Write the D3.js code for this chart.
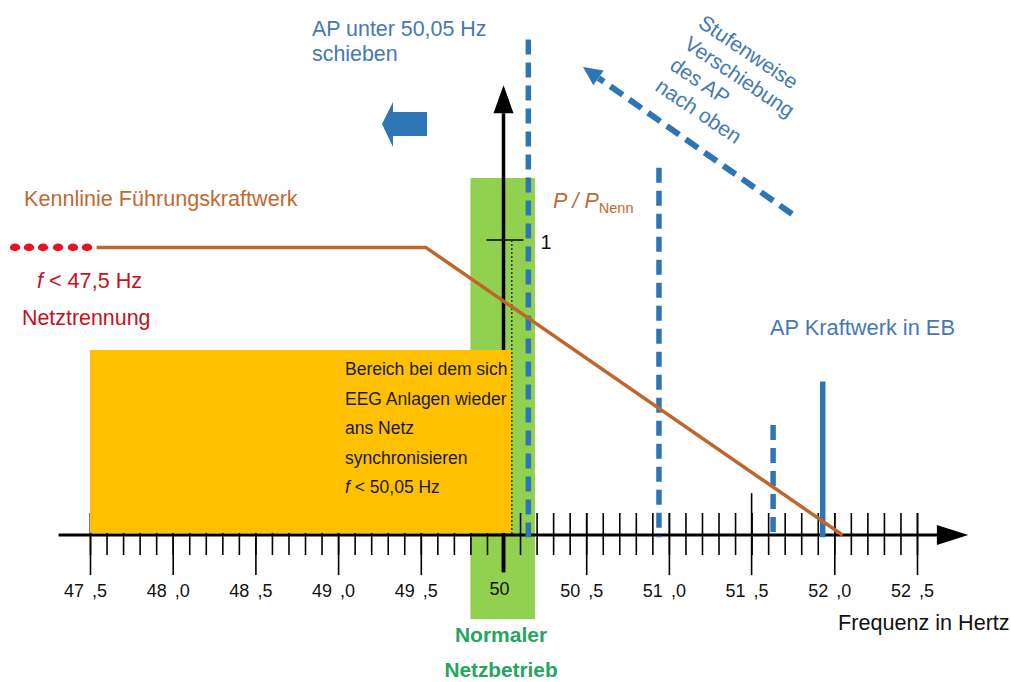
<!DOCTYPE html>
<html>
<head>
<meta charset="utf-8">
<script src="https://cdn.jsdelivr.net/npm/d3@7"></script>
<style>
  body { margin: 0; background: #fff; }
  svg { display: block; font-family: "Liberation Sans", Arial, sans-serif; }
</style>
</head>
<body>
<div id="chart"></div>
<script>
// ---- data ----
// major ticks on the frequency axis (Hz) and their labels
const majorTicks = [47.5, 48.0, 48.5, 49.0, 49.5, 50.0, 50.5, 51.0, 51.5, 52.0, 52.5];
const tickLabels = [["47", ",5"], ["48", ",0"], ["48", ",5"], ["49", ",0"], ["49", ",5"], ["50", ""],
                    ["50", ",5"], ["51", ",0"], ["51", ",5"], ["52", ",0"], ["52", ",5"]];
// Kennlinie Führungskraftwerk (frequency Hz, P/PNenn)
const kennF = [47.54, 49.53, 52.05];
const kennP = [0.975, 0.975, 0];
// red dotted part below 47,5 Hz
const trennF = [47.047, 47.131, 47.216, 47.307, 47.397, 47.482];
const trennP = 0.975;
// operating points (AP) of the plant, blue vertical lines
const apF = [50.15, 50.94, 51.63, 51.93];
const apTop = [1.68, 1.245, 0.373, 0.52];
const apDashed = [true, true, true, false];
// areas
const normalBand = [49.8, 50.19];     // Normaler Netzbetrieb
const syncBand = [47.5, 50.05];       // EEG re-synchronisation range
const syncTop = 0.627;

// colours
const orange = "#C0662B", orangeText = "#BF6A33";
const blue = "#2E75B6", blueText = "#4579B3";
const red = "#E8131F", redText = "#C8101E";
const green = "#92D050", greenText = "#25A55F";
const yellow = "#FFC000";

const W = 1011, H = 682;

const svg = d3.select("#chart")
  .append("svg")
  .attr("width", W)
  .attr("height", H);

// scales
const x = d3.scaleLinear().domain([47.5, 52.5]).range([90, 917]);
const y = d3.scaleLinear().domain([0, 1]).range([535, 240]);

// green band "Normaler Netzbetrieb"
svg.append("rect")
  .attr("x", x(normalBand[0]))
  .attr("width", x(normalBand[1]) - x(normalBand[0]))
  .attr("y", y(1.21))
  .attr("height", y(-0.285) - y(1.21))
  .attr("fill", green);

// minor ticks every 0.1 Hz (crossing the axis)
const minorTicks = d3.range(0, 51).map(i => 47.5 + i * 0.1);
svg.append("g")
  .attr("transform", `translate(0,${y(0.0746)})`)
  .call(d3.axisBottom(x).tickValues(minorTicks).tickSize(y(-0.068) - y(0.0746)).tickFormat(""))
  .call(g => g.select(".domain").remove())
  .selectAll("line")
  .attr("stroke", "#000")
  .attr("stroke-width", 1.6);

// major ticks (longer)
svg.append("g")
  .attr("transform", `translate(0,${y(0.0746)})`)
  .call(d3.axisBottom(x).tickValues(majorTicks.filter(d => d !== 50 && d !== 51.5))
    .tickSize(y(-0.136) - y(0.0746)).tickFormat(""))
  .call(g => g.select(".domain").remove())
  .selectAll("line")
  .attr("stroke", "#000")
  .attr("stroke-width", 1.6);

// the 51,5 tick sticks out further above
svg.append("line")
  .attr("x1", x(51.5)).attr("x2", x(51.5))
  .attr("y1", y(0.142)).attr("y2", y(-0.136))
  .attr("stroke", "#000").attr("stroke-width", 1.6);

// vertical P axis with arrow
svg.append("line")
  .attr("x1", x(50)).attr("x2", x(50))
  .attr("y1", y(-0.126)).attr("y2", y(1.43))
  .attr("stroke", "#000").attr("stroke-width", 3.5);
svg.append("path")
  .attr("d", `M${x(50)},${y(1.525)} L${x(50) - 10},${y(1.43)} L${x(50) + 10},${y(1.43)} Z`)
  .attr("fill", "#000");

// tick "1"
svg.append("line")
  .attr("x1", x(50) - 17).attr("x2", x(50) + 20)
  .attr("y1", y(1)).attr("y2", y(1))
  .attr("stroke", "#000").attr("stroke-width", 1.6);
svg.append("text")
  .attr("x", x(50) + 37).attr("y", y(1) + 9)
  .attr("font-size", 20).attr("fill", "#111")
  .text("1");

// yellow range
svg.append("rect")
  .attr("x", x(syncBand[0]))
  .attr("width", x(syncBand[1]) - x(syncBand[0]))
  .attr("y", y(syncTop))
  .attr("height", y(0.007) - y(syncTop))
  .attr("fill", yellow);

const yl = svg.append("text")
  .attr("font-size", 17.5)
  .attr("fill", "#1a1a1a");
const yLines = ["Bereich bei dem sich", "EEG Anlagen wieder", "ans Netz", "synchronisieren"];
yLines.forEach((t, i) => {
  yl.append("tspan").attr("x", 345).attr("y", 375 + i * 29.6).text(t);
});
yl.append("tspan").attr("x", 345).attr("y", 493).attr("font-style", "italic").text("f");
yl.append("tspan").text(" < 50,05 Hz");

// dotted line at 50,05 Hz
svg.append("line")
  .attr("x1", x(50.05)).attr("x2", x(50.05))
  .attr("y1", y(1)).attr("y2", y(0))
  .attr("stroke", "#333").attr("stroke-width", 1.5)
  .attr("stroke-dasharray", "2,2");

// thick tick at 50 Hz
svg.append("line")
  .attr("x1", x(50)).attr("x2", x(50))
  .attr("y1", y(0)).attr("y2", y(-0.126))
  .attr("stroke", "#000").attr("stroke-width", 3.5);

// frequency axis line with arrow
svg.append("line")
  .attr("x1", x(47.31)).attr("x2", x(52.64))
  .attr("y1", y(0)).attr("y2", y(0))
  .attr("stroke", "#000").attr("stroke-width", 3.2);
svg.append("path")
  .attr("d", `M${x(52.81)},${y(0)} L${x(52.62)},${y(0) - 10} L${x(52.62)},${y(0) + 10} Z`)
  .attr("fill", "#000");

// tick labels
majorTicks.forEach((f, i) => {
  const lab = tickLabels[i];
  if (lab[1] === "") {
    svg.append("text")
      .attr("x", x(f) - 4).attr("y", 595)
      .attr("text-anchor", "middle")
      .attr("font-size", 18).attr("fill", "#111")
      .text(lab[0]);
  } else {
    svg.append("text")
      .attr("x", x(f) - 6).attr("y", 597)
      .attr("text-anchor", "end")
      .attr("font-size", 18).attr("fill", "#111")
      .text(lab[0]);
    svg.append("text")
      .attr("x", x(f) + 2).attr("y", 597)
      .attr("font-size", 18).attr("fill", "#111")
      .text(lab[1]);
  }
});

// blue AP lines
svg.selectAll(".ap")
  .data(apF)
  .enter()
  .append("line")
  .attr("class", "ap")
  .attr("x1", d => x(d)).attr("x2", d => x(d))
  .attr("y1", (d, i) => y(apTop[i]))
  .attr("y2", y(-0.008))
  .attr("stroke", blue)
  .attr("stroke-width", 5.5)
  .attr("stroke-dasharray", (d, i) => apDashed[i] ? "15,8" : null);

// Kennlinie
const kennData = kennF.map((f, i) => [f, kennP[i]]);
svg.append("path")
  .datum(kennData)
  .attr("d", d3.line().x(d => x(d[0])).y(d => y(d[1])))
  .attr("fill", "none")
  .attr("stroke", orange)
  .attr("stroke-width", 3.5);

// red dots (Netztrennung)
svg.selectAll(".dot")
  .data(trennF)
  .enter()
  .append("ellipse")
  .attr("class", "dot")
  .attr("cx", d => x(d))
  .attr("cy", y(trennP))
  .attr("rx", 5.2).attr("ry", 3.8)
  .attr("fill", red);

// texts
const t1 = svg.append("text").attr("font-size", 21.4).attr("fill", blueText);
t1.append("tspan").attr("x", 312).attr("y", 36).text("AP unter 50,05 Hz");
t1.append("tspan").attr("x", 312).attr("y", 61).text("schieben");

svg.append("text")
  .attr("x", 24).attr("y", 206)
  .attr("font-size", 21.6).attr("fill", orangeText)
  .text("Kennlinie Führungskraftwerk");

const t2 = svg.append("text").attr("font-size", 21.6).attr("fill", redText);
t2.append("tspan").attr("x", 37).attr("y", 288).attr("font-style", "italic").text("f");
t2.append("tspan").text(" < 47,5 Hz");
svg.append("text")
  .attr("x", 22).attr("y", 325)
  .attr("font-size", 21.4).attr("fill", redText)
  .text("Netztrennung");

const pn = svg.append("text").attr("x", 553).attr("y", 208).attr("fill", orangeText).attr("font-size", 21.5);
pn.append("tspan").attr("font-style", "italic").text("P / P");
pn.append("tspan").attr("font-size", 14.5).attr("dy", 5).text("Nenn");

svg.append("text")
  .attr("x", 770).attr("y", 335)
  .attr("font-size", 21.8).attr("fill", blueText)
  .text("AP Kraftwerk in EB");

svg.append("text")
  .attr("x", 838).attr("y", 630)
  .attr("font-size", 21.6).attr("fill", "#111")
  .text("Frequenz in Hertz");

svg.append("text")
  .attr("x", 501).attr("y", 642)
  .attr("text-anchor", "middle")
  .attr("font-size", 21).attr("font-weight", "bold").attr("fill", greenText)
  .text("Normaler");
svg.append("text")
  .attr("x", 501).attr("y", 677)
  .attr("text-anchor", "middle")
  .attr("font-size", 20.8).attr("font-weight", "bold").attr("fill", greenText)
  .text("Netzbetrieb");

// rotated annotation
const rot = svg.append("text")
  .attr("transform", "translate(697,26) rotate(34)")
  .attr("font-size", 21).attr("fill", blueText);
["Stufenweise", "Verschiebung", "des AP", "nach oben"].forEach((t, i) => {
  rot.append("tspan").attr("x", 0).attr("y", 25.6 * i).text(t);
});

// dashed diagonal arrow
const tail = [792, 214], tip = [583, 67];
const dx = tip[0] - tail[0], dy = tip[1] - tail[1];
const len = Math.hypot(dx, dy), ux = dx / len, uy = dy / len;
const base = [tip[0] - 19 * ux, tip[1] - 19 * uy];
svg.append("line")
  .attr("x1", tail[0]).attr("y1", tail[1])
  .attr("x2", base[0]).attr("y2", base[1])
  .attr("stroke", blue).attr("stroke-width", 6)
  .attr("stroke-dasharray", "15,8");
svg.append("path")
  .attr("d", `M${tip[0]},${tip[1]} L${base[0] - 9 * uy},${base[1] + 9 * ux} L${base[0] + 9 * uy},${base[1] - 9 * ux} Z`)
  .attr("fill", blue);

// block arrow pointing left
svg.append("path")
  .attr("d", "M382,124 L393,102 L393,112 L427,112 L427,136 L393,136 L393,147 Z")
  .attr("fill", blue);
</script>
</body>
</html>
